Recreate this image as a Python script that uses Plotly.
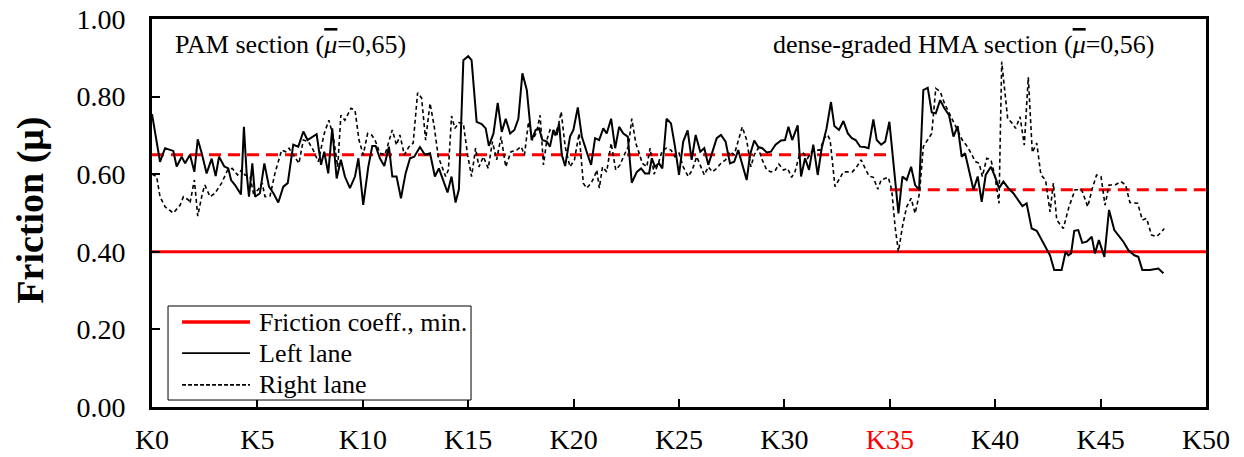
import plotly.graph_objects as go

# Skid-resistance survey along the motorway, chainage in km
left_km = [0.0, 0.38, 0.62, 1.01, 1.17, 1.41, 1.57, 1.80, 2.01, 2.17, 2.36, 2.59, 2.83, 3.02, 3.18,
           3.43, 3.62, 3.75, 3.94, 4.22, 4.36, 4.49, 4.60, 4.76, 4.89, 5.12, 5.33, 5.55, 5.76, 5.99,
           6.23, 6.44, 6.70, 6.94, 7.18, 7.38, 7.81, 8.02, 8.17, 8.36, 8.55, 8.76, 8.96, 9.15, 9.39,
           9.63, 9.79, 10.02, 10.26, 10.45, 10.61, 10.81, 11.02, 11.24, 11.40, 11.60, 11.81, 12.03,
           12.24, 12.44, 12.71, 12.95, 13.19, 13.42, 13.61, 13.82, 14.02, 14.21, 14.40, 14.56, 14.77,
           15.00, 15.16, 15.40, 15.64, 15.83, 15.98, 16.20, 16.40, 16.59, 16.78, 16.99, 17.19, 17.38,
           17.57, 17.78, 18.01, 18.20, 18.36, 18.52, 18.73, 18.88, 19.04, 19.20, 19.31, 19.44, 19.60,
           19.83, 19.99, 20.20, 20.39, 20.62, 20.83, 21.02, 21.21, 21.41, 21.57, 21.78, 21.97, 22.16,
           22.36, 22.57, 22.76, 23.00, 23.20, 23.39, 23.58, 23.71, 23.86, 24.05, 24.21, 24.41, 24.62,
           24.81, 25.00, 25.20, 25.41, 25.60, 25.79, 26.01, 26.20, 26.39, 26.58, 26.79, 26.99, 27.21,
           27.42, 27.62, 27.81, 28.00, 28.21, 28.37, 28.57, 28.76, 28.95, 29.16, 29.36, 29.58, 29.84,
           30.03, 30.19, 30.37, 30.63, 30.79, 30.98, 31.17, 31.37, 31.58, 31.77, 32.00, 32.21, 32.37,
           32.59, 32.80, 33.01, 33.20, 33.38, 33.59, 33.80, 33.99, 34.22, 34.38, 34.59, 34.78, 34.98,
           35.41, 35.60, 35.80, 36.01, 36.20, 36.39, 36.59, 36.80, 36.99, 37.18, 37.39, 37.59, 37.81,
           38.02, 38.22, 38.41, 38.57, 38.76, 38.97, 39.17, 39.36, 39.55, 39.80, 39.99, 40.18, 40.39,
           40.62, 40.86, 41.07, 41.29, 41.49, 41.73, 41.97, 42.20, 42.44, 42.60, 42.80, 43.15, 43.34,
           43.47, 43.60, 43.75, 43.94, 44.13, 44.34, 44.58, 44.73, 44.92, 45.18, 45.40, 45.65, 45.87,
           46.08, 46.32, 46.60, 46.79, 46.98, 47.34, 47.74, 47.98]
left_mu = [0.755, 0.632, 0.667, 0.660, 0.620, 0.645, 0.628, 0.650, 0.606, 0.690, 0.654, 0.602, 0.640,
           0.595, 0.645, 0.620, 0.615, 0.585, 0.572, 0.548, 0.722, 0.602, 0.542, 0.628, 0.542, 0.551,
           0.628, 0.568, 0.551, 0.527, 0.568, 0.577, 0.676, 0.671, 0.710, 0.688, 0.703, 0.624, 0.658,
           0.602, 0.718, 0.589, 0.637, 0.594, 0.564, 0.594, 0.641, 0.521, 0.619, 0.673, 0.673, 0.641,
           0.621, 0.671, 0.594, 0.594, 0.538, 0.602, 0.641, 0.645, 0.670, 0.650, 0.654, 0.594, 0.615,
           0.585, 0.553, 0.594, 0.527, 0.561, 0.894, 0.904, 0.894, 0.735, 0.729, 0.718, 0.673, 0.705,
           0.784, 0.709, 0.743, 0.705, 0.714, 0.743, 0.860, 0.817, 0.688, 0.714, 0.718, 0.688, 0.684,
           0.671, 0.714, 0.701, 0.731, 0.650, 0.621, 0.697, 0.714, 0.772, 0.697, 0.658, 0.624, 0.693,
           0.688, 0.718, 0.705, 0.743, 0.667, 0.722, 0.705, 0.697, 0.578, 0.606, 0.615, 0.602, 0.602,
           0.641, 0.619, 0.628, 0.615, 0.743, 0.731, 0.671, 0.598, 0.684, 0.713, 0.637, 0.701, 0.658,
           0.667, 0.624, 0.658, 0.693, 0.701, 0.684, 0.628, 0.632, 0.662, 0.628, 0.585, 0.650, 0.687,
           0.670, 0.667, 0.656, 0.658, 0.676, 0.687, 0.688, 0.722, 0.688, 0.726, 0.594, 0.641, 0.611,
           0.676, 0.598, 0.667, 0.718, 0.786, 0.724, 0.714, 0.737, 0.705, 0.693, 0.688, 0.671, 0.670,
           0.667, 0.741, 0.688, 0.676, 0.684, 0.735, 0.499, 0.594, 0.585, 0.619, 0.572, 0.560, 0.817,
           0.823, 0.759, 0.757, 0.791, 0.770, 0.752, 0.697, 0.724, 0.645, 0.654, 0.606, 0.560, 0.594,
           0.529, 0.598, 0.619, 0.594, 0.564, 0.581, 0.564, 0.551, 0.534, 0.518, 0.525, 0.460, 0.454,
           0.430, 0.404, 0.391, 0.353, 0.353, 0.400, 0.391, 0.396, 0.454, 0.456, 0.423, 0.426, 0.439,
           0.396, 0.430, 0.387, 0.508, 0.456, 0.439, 0.426, 0.404, 0.391, 0.387, 0.353, 0.353, 0.357,
           0.345]

right_km = [0.0, 0.22, 0.38, 0.62, 1.01, 1.33, 1.49, 1.72, 1.80, 2.01, 2.17, 2.39, 2.51, 2.75, 2.99,
            3.30, 3.59, 3.81, 4.06, 4.25, 4.41, 4.65, 4.81, 5.04, 5.23, 5.36, 5.60, 5.83, 6.15, 6.34,
            6.50, 6.75, 6.97, 7.18, 7.42, 7.65, 7.89, 8.17, 8.39, 8.60, 8.81, 8.96, 9.15, 9.44, 9.63,
            9.82, 10.02, 10.23, 10.42, 10.58, 10.81, 11.05, 11.24, 11.40, 11.60, 11.76, 11.97, 12.19,
            12.39, 12.60, 12.79, 12.98, 13.19, 13.39, 13.58, 13.74, 13.93, 14.06, 14.21, 14.37, 14.56,
            14.77, 14.97, 15.16, 15.35, 15.51, 15.72, 15.95, 16.15, 16.35, 16.56, 16.78, 17.03, 17.30,
            17.51, 17.67, 17.86, 18.05, 18.25, 18.41, 18.57, 18.73, 18.88, 19.12, 19.28, 19.41, 19.60,
            19.83, 20.04, 20.26, 20.46, 20.62, 20.83, 20.99, 21.10, 21.22, 21.37, 21.57, 21.78, 22.00,
            22.20, 22.44, 22.60, 22.76, 22.95, 23.11, 23.26, 23.47, 23.63, 23.82, 24.02, 24.21, 24.41,
            24.62, 24.81, 25.00, 25.20, 25.44, 25.63, 25.84, 26.00, 26.20, 26.39, 26.58, 26.79, 26.99,
            27.21, 27.42, 27.62, 27.81, 28.00, 28.21, 28.41, 28.57, 28.76, 28.95, 29.16, 29.36, 29.55,
            29.74, 29.95, 30.15, 30.34, 30.50, 30.69, 30.90, 31.10, 31.29, 31.48, 31.69, 31.89, 32.05,
            32.17, 32.40, 32.59, 32.80, 33.04, 33.23, 33.43, 33.64, 33.83, 34.02, 34.22, 34.43, 34.59,
            34.78, 34.93, 35.09, 35.25, 35.41, 35.60, 35.80, 36.01, 36.20, 36.41, 36.59, 36.80, 36.99,
            37.18, 37.39, 37.59, 37.81, 38.02, 38.22, 38.44, 38.65, 38.86, 39.05, 39.24, 39.39, 39.60,
            39.80, 39.99, 40.18, 40.31, 40.59, 40.81, 40.97, 41.18, 41.38, 41.57, 41.76, 41.97, 42.17,
            42.39, 42.60, 42.76, 42.92, 43.23, 43.50, 43.79, 44.10, 44.39, 44.61, 44.81, 45.02, 45.21,
            45.40, 45.68, 45.97, 46.19, 46.39, 46.76, 46.98, 47.18, 47.42, 47.66, 47.90, 48.02]
right_mu = [0.600, 0.594, 0.542, 0.516, 0.500, 0.520, 0.542, 0.534, 0.525, 0.585, 0.492, 0.551, 0.572,
            0.542, 0.551, 0.577, 0.611, 0.615, 0.598, 0.611, 0.598, 0.595, 0.551, 0.560, 0.577, 0.542,
            0.544, 0.602, 0.662, 0.658, 0.667, 0.645, 0.628, 0.688, 0.684, 0.662, 0.632, 0.705, 0.739,
            0.697, 0.619, 0.752, 0.739, 0.770, 0.765, 0.688, 0.650, 0.705, 0.701, 0.688, 0.654, 0.650,
            0.684, 0.714, 0.675, 0.701, 0.650, 0.671, 0.680, 0.810, 0.796, 0.688, 0.783, 0.722, 0.645,
            0.619, 0.594, 0.611, 0.750, 0.718, 0.733, 0.731, 0.650, 0.594, 0.667, 0.619, 0.645, 0.615,
            0.684, 0.637, 0.697, 0.619, 0.658, 0.662, 0.671, 0.650, 0.735, 0.688, 0.709, 0.752, 0.624,
            0.688, 0.714, 0.701, 0.726, 0.761, 0.671, 0.619, 0.637, 0.705, 0.577, 0.564, 0.577, 0.594,
            0.611, 0.564, 0.619, 0.606, 0.680, 0.611, 0.624, 0.654, 0.671, 0.743, 0.680, 0.654, 0.628,
            0.619, 0.667, 0.600, 0.628, 0.662, 0.667, 0.662, 0.645, 0.654, 0.619, 0.594, 0.611, 0.645,
            0.624, 0.598, 0.619, 0.606, 0.615, 0.628, 0.637, 0.658, 0.650, 0.688, 0.722, 0.688, 0.619,
            0.650, 0.667, 0.637, 0.611, 0.606, 0.608, 0.626, 0.611, 0.615, 0.592, 0.606, 0.645, 0.654,
            0.641, 0.658, 0.662, 0.662, 0.693, 0.701, 0.688, 0.568, 0.585, 0.606, 0.606, 0.606, 0.619,
            0.637, 0.615, 0.595, 0.592, 0.561, 0.585, 0.589, 0.592, 0.560, 0.465, 0.400, 0.465, 0.516,
            0.538, 0.499, 0.551, 0.671, 0.688, 0.705, 0.821, 0.813, 0.783, 0.759, 0.733, 0.714, 0.688,
            0.673, 0.654, 0.633, 0.628, 0.594, 0.641, 0.637, 0.594, 0.525, 0.890, 0.744, 0.731, 0.718,
            0.748, 0.675, 0.850, 0.656, 0.680, 0.598, 0.585, 0.503, 0.577, 0.482, 0.460, 0.516, 0.560,
            0.560, 0.516, 0.564, 0.598, 0.594, 0.520, 0.572, 0.572, 0.581, 0.572, 0.527, 0.525, 0.482,
            0.486, 0.443, 0.439, 0.452, 0.460]

# Section limits (km) and section mean friction
section_bounds = [0, 35, 50]
section_means = [0.65, 0.56]
mu_min = 0.40

tick_km = [0, 5, 10, 15, 20, 25, 30, 35, 40, 45, 50]
tick_text = ["K0", "K5", "K10", "K15", "K20", "K25", "K30",
             "<span style='color:#ff0000'>K35</span>", "K40", "K45", "K50"]

FONT = "Liberation Serif, Times New Roman, serif"
RED = "#ff0000"

fig = go.Figure()

# minimum required friction coefficient
fig.add_trace(go.Scatter(x=[section_bounds[0], section_bounds[-1]], y=[mu_min, mu_min],
                         mode="lines", line=dict(color=RED, width=3), showlegend=False))

# section means
for i, m in enumerate(section_means):
    fig.add_trace(go.Scatter(x=[section_bounds[i], section_bounds[i + 1]], y=[m, m],
                             mode="lines", line=dict(color=RED, width=3, dash="12px,7px"),
                             showlegend=False))

fig.add_trace(go.Scatter(x=right_km, y=right_mu, mode="lines",
                         line=dict(color="black", width=1.6, dash="4px,3px"), showlegend=False))
fig.add_trace(go.Scatter(x=left_km, y=left_mu, mode="lines",
                         line=dict(color="black", width=2), showlegend=False))

axis_common = dict(showline=True, linewidth=3, linecolor="black", mirror=True,
                   ticks="inside", ticklen=8, tickwidth=1.5, tickcolor="black",
                   showgrid=False, zeroline=False, automargin=False,
                   tickfont=dict(family=FONT, size=28, color="black"))

fig.update_xaxes(range=[0, 50], tickvals=tick_km, ticktext=tick_text,
                 ticklabelstandoff=5, **axis_common)
fig.update_yaxes(range=[0, 1], dtick=0.2, tick0=0, tickformat=".2f",
                 ticklabelstandoff=18, **axis_common)

annotations = [
    dict(text="Friction (μ)", textangle=-90, x=-0.115, y=0.508, xref="paper", yref="paper",
         xanchor="center", yanchor="middle", showarrow=False,
         font=dict(family=FONT, size=38, color="black", weight="bold")),
    dict(text="PAM section (<i><span style='text-decoration:overline'>μ</span></i>=0,65)",
         x=0.0199, y=0.933, xref="paper", yref="paper", xanchor="left", yanchor="middle",
         showarrow=False, font=dict(family=FONT, size=26, color="black")),
    dict(text="dense-graded HMA section (<i><span style='text-decoration:overline'>μ</span></i>=0,56)",
         x=0.9535, y=0.933, xref="paper", yref="paper", xanchor="right", yanchor="middle",
         showarrow=False, font=dict(family=FONT, size=26, color="black")),
]

# legend box drawn in paper coordinates
shapes = [dict(type="rect", xref="paper", yref="paper", x0=0.0152, x1=0.3027, y0=0.018, y1=0.2603,
               line=dict(color="black", width=1), fillcolor="white", layer="above")]
legend_rows = [
    ("Friction coeff., min.", 0.219, dict(color=RED, width=3.5)),
    ("Left lane", 0.139, dict(color="black", width=1.8)),
    ("Right lane", 0.057, dict(color="black", width=1.6, dash="4px,2px")),
]
for label, yy, ln in legend_rows:
    shapes.append(dict(type="line", xref="paper", yref="paper", x0=0.0285, x1=0.0930,
                       y0=yy, y1=yy, line=ln, layer="above"))
    annotations.append(dict(text=label, x=0.1, y=yy, xref="paper", yref="paper",
                            xanchor="left", yanchor="middle", showarrow=False,
                            font=dict(family=FONT, size=26, color="black")))

fig.update_layout(width=1244, height=457, margin=dict(l=152, r=38, t=19, b=50),
                  plot_bgcolor="white", paper_bgcolor="white",
                  annotations=annotations, shapes=shapes,
                  font=dict(family=FONT, color="black"))

fig.write_html("out.html")
